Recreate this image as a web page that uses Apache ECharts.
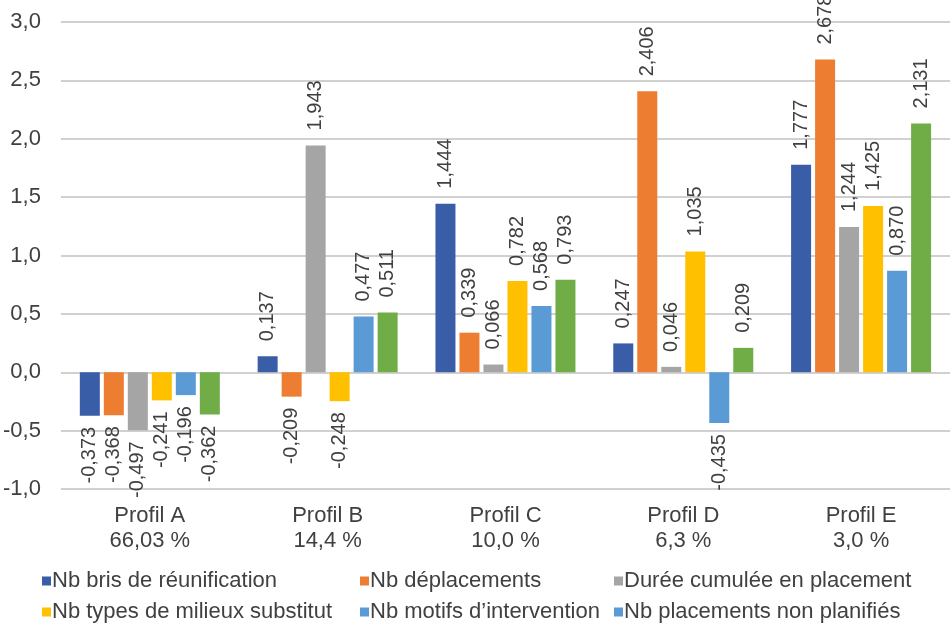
<!DOCTYPE html>
<html><head><meta charset="utf-8">
<script src="https://cdn.jsdelivr.net/npm/echarts@6/dist/echarts.min.js"></script>
<style>html,body{margin:0;padding:0;background:#fff}#c{width:951px;height:627px}</style>
</head><body><div id="c"></div>
<script>
const categories = ['Profil A\n66,03 %','Profil B\n14,4 %','Profil C\n10,0 %','Profil D\n6,3 %','Profil E\n3,0 %'];
const seriesNames = ['Nb bris de réunification','Nb déplacements','Durée cumulée en placement','Nb types de milieux substitut','Nb motifs d\u2019intervention','Nb placements non planifiés'];
const sBris = [-0.373, 0.137, 1.444, 0.247, 1.777];
const sDepl = [-0.368, -0.209, 0.339, 2.406, 2.678];
const sDuree = [-0.497, 1.943, 0.066, 0.046, 1.244];
const sTypes = [-0.241, -0.248, 0.782, 1.035, 1.425];
const sMotifs = [-0.196, 0.477, 0.568, -0.435, 0.870];
const sPlac = [-0.362, 0.511, 0.793, 0.209, 2.131];
const yTicks = [-1.0, -0.5, 0, 0.5, 1.0, 1.5, 2.0, 2.5, 3.0];

const colors = ['#3A5DA8','#ED7D31','#A5A5A5','#FFC000','#5B9BD5','#70AD47'];
const legendColors = ['#3A5DA8','#ED7D31','#A5A5A5','#FFC000','#5B9BD5','#5B9BD5'];
const allData = [sBris,sDepl,sDuree,sTypes,sMotifs,sPlac];
const txt = '#404040';
const font = 'Liberation Sans, Arial, sans-serif';

function fmt(v){ return v.toFixed(3).replace('.',','); }

const series = allData.map((arr,i)=>({
  name: seriesNames[i],
  type: 'bar',
  barWidth: 20,
  barGap: '20%',
  itemStyle: {color: colors[i]},
  data: arr.map(v=>({
    value: v,
    label: v>=0 ? {position:'top', align:'left', distance:15} : {position:'bottom', align:'right', distance:11}
  })),
  label: {
    show: true, rotate: 90, verticalAlign: 'middle',
    color: txt, fontSize: 20, fontFamily: font,
    formatter: p => fmt(p.value)
  }
}));

const legPos = [[42,570],[360,570],[614,570],[42,601],[360,601],[614,601]];
const legends = seriesNames.map((n,i)=>({
  left: legPos[i][0], top: legPos[i][1],
  itemWidth: 9, itemHeight: 9, itemGap: 0, padding: 0,
  icon: 'rect',
  selectedMode: false,
  textStyle: {color: txt, fontSize: 22, fontFamily: font, padding:[0,0,0,-4]},
  data: [{name: n, itemStyle: {color: legendColors[i]}}]
}));

const chart = echarts.init(document.getElementById('c'));
chart.setOption({
  animation: false,
  grid: {left: 58, right: 1, top: 22, bottom: 138},
  legend: legends,
  xAxis: {
    type: 'category', data: categories,
    axisLine: {show: false, onZero: false}, axisTick: {show: false},
    axisLabel: {color: txt, fontSize: 22, fontFamily: font, lineHeight: 25, margin: 14}
  },
  yAxis: {
    type: 'value', min: yTicks[0], max: yTicks[yTicks.length-1], interval: 0.5,
    axisLine: {show: false}, axisTick: {show: false},
    splitLine: {lineStyle: {color: '#C0C0C0', width: 1.5}},
    axisLabel: {color: txt, fontSize: 22, fontFamily: font, margin: 20,
      formatter: v => v.toFixed(1).replace('.',',')}
  },
  series: series
});
</script></body></html>
